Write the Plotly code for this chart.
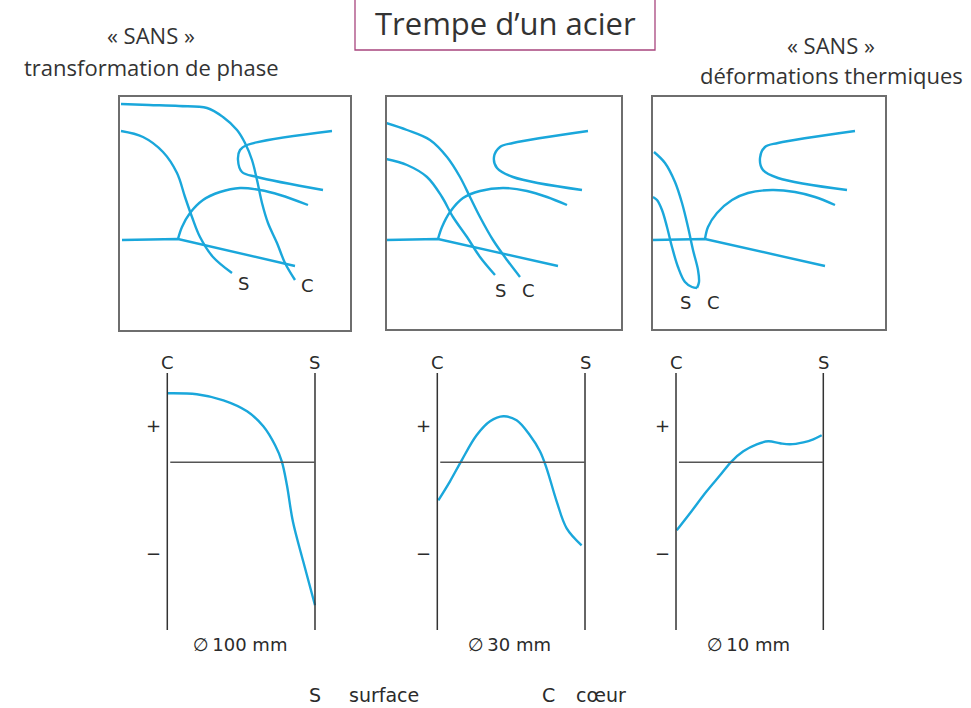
import plotly.graph_objects as go

FIG_W, FIG_H = 971, 708
CURVE = "#1AA7DB"
INK = "#2b2b2b"
LAB_FAMILY = "DejaVu Sans, Liberation Sans, Arial"
HDR_FAMILY = "Open Sans, Lato"

# ---------------- data: TTT diagrams (local diagram units) ----------------
# Panel 1 : Ø100 mm  ("SANS" transformation de phase)
P1_C_u = [2, 30, 60, 88, 104, 118, 126, 133, 138, 143, 149, 158, 166, 176]
P1_C_v = [227, 226, 225, 223, 214, 201, 188, 171, 151, 128, 108, 88, 68, 51]
P1_S_u = [2, 24, 44, 58, 66, 73, 81, 94, 113]
P1_S_v = [200, 194, 179, 158, 134, 114, 94, 74, 58]
P1_M_u = [3, 59, 176]
P1_M_v = [91, 92, 65]
P1_B_u = [59, 63, 71, 84, 101, 121, 141, 161, 189]
P1_B_v = [92, 104, 118, 131, 139, 143, 141, 136, 126]
P1_P_u = [213, 128, 121, 119, 123, 138, 204]
P1_P_v = [200, 186, 181, 171, 159, 154, 141]

# Panel 2 : Ø30 mm
P2_C_u = [0, 21, 44, 61, 74, 84, 94, 107, 121, 134]
P2_C_v = [207, 200, 190, 173, 153, 133, 113, 90, 70, 53]
P2_S_u = [0, 21, 41, 56, 67, 81, 94, 109]
P2_S_v = [171, 165, 153, 133, 113, 93, 73, 55]
P2_M_u = [0, 52, 172]
P2_M_v = [90, 91, 64]
P2_B_u = [52, 56, 64, 77, 94, 117, 141, 161, 181]
P2_B_v = [91, 103, 118, 132, 139, 142, 139, 133, 125]
P2_P_u = [202, 127, 114, 108, 111, 127, 196]
P2_P_v = [199, 187, 183, 173, 162, 153, 140]

# Panel 3 : Ø10 mm ("SANS" déformations thermiques)
P3_C_u = [2, 13, 23, 30, 36, 41, 46, 47, 45]
P3_C_v = [178, 167, 148, 127, 103, 80, 60, 48, 42]
P3_S_u = [1, 5, 10, 15, 20, 26, 33, 40, 45]
P3_S_v = [133, 130, 120, 103, 83, 63, 48, 43, 42]
P3_M_u = [0, 53, 173]
P3_M_v = [90, 91, 64]
P3_B_u = [53, 56, 65, 80, 96, 120, 143, 163, 183]
P3_B_v = [91, 103, 117, 130, 137, 140, 138, 133, 125]
P3_P_u = [203, 126, 113, 108, 111, 126, 195]
P3_P_v = [199, 187, 183, 172, 160, 152, 140]

TOP_LABEL_POS = [((124, 48), (188, 46)), ((114, 40), (142, 40)), ((33, 28), (61, 28))]

# ---------------- data: residual stress profiles (C = 0 -> S = 1) ----------------
B1_x = [0, 0.20, 0.38, 0.54, 0.65, 0.73, 0.775, 0.81, 0.85, 0.92, 1.0]
B1_y = [0.69, 0.68, 0.62, 0.51, 0.36, 0.17, 0.01, -0.23, -0.59, -0.99, -1.43]
B2_x = [0.007, 0.086, 0.165, 0.266, 0.357, 0.447, 0.537, 0.627, 0.695, 0.74, 0.808, 0.876, 0.977]
B2_y = [-0.38, -0.19, 0.02, 0.27, 0.41, 0.46, 0.42, 0.27, 0.11, -0.06, -0.39, -0.66, -0.83]
B3_x = [0.005, 0.095, 0.208, 0.299, 0.378, 0.457, 0.548, 0.627, 0.706, 0.774, 0.865, 0.932, 0.989]
B3_y = [-0.68, -0.51, -0.29, -0.13, 0.01, 0.11, 0.18, 0.21, 0.19, 0.18, 0.20, 0.23, 0.27]
DIAM_LABELS = ["\u2205\u2009100 mm", "\u2205\u200930 mm", "\u2205\u200910 mm"]

# ---------------- layout helpers (pixel boxes) ----------------
TOP_BOXES = [(119, 351, 96, 331), (386, 622, 96, 330), (652, 886, 96, 330)]
BOT_LINES = [(167.3, 315.0), (437.3, 585.0), (676.0, 823.3)]
ZERO_PX = 462.3
UNIT_PX = 100.0
Y_TOP, Y_BOT = 0.893, -1.677
BX_RANGE = [-0.15, 1.15]
BY_RANGE = [-1.9, 1.1]


def dom_x(a, b):
    return [a / FIG_W, b / FIG_W]


def dom_y(top, bottom):
    return [1 - bottom / FIG_H, 1 - top / FIG_H]


def ax_names(n):
    if n == 1:
        return "x", "y", "xaxis", "yaxis"
    return f"x{n}", f"y{n}", f"xaxis{n}", f"yaxis{n}"


fig = go.Figure()
layout_axes = {}
shapes = []
annotations = []

top_sets = [
    [(P1_C_u, P1_C_v), (P1_S_u, P1_S_v), (P1_B_u, P1_B_v), (P1_P_u, P1_P_v)],
    [(P2_C_u, P2_C_v), (P2_S_u, P2_S_v), (P2_B_u, P2_B_v), (P2_P_u, P2_P_v)],
    [(P3_C_u, P3_C_v), (P3_S_u, P3_S_v), (P3_B_u, P3_B_v), (P3_P_u, P3_P_v)],
]
top_ms = [(P1_M_u, P1_M_v), (P2_M_u, P2_M_v), (P3_M_u, P3_M_v)]

lab_font = dict(family=LAB_FAMILY, size=18, color=INK)

for i, (l, r, t, b) in enumerate(TOP_BOXES):
    xa, ya, xk, yk = ax_names(i + 1)
    layout_axes[xk] = dict(domain=dom_x(l, r), range=[0, r - l], visible=False,
                           anchor=ya, fixedrange=True)
    layout_axes[yk] = dict(domain=dom_y(t, b), range=[0, b - t], visible=False,
                           anchor=xa, fixedrange=True)
    for (u, v) in top_sets[i]:
        fig.add_trace(go.Scatter(x=u, y=v, mode="lines", xaxis=xa, yaxis=ya,
                                 line=dict(color=CURVE, width=2.4, shape="spline", smoothing=1.0),
                                 hoverinfo="skip", showlegend=False))
    mu, mv = top_ms[i]
    fig.add_trace(go.Scatter(x=mu, y=mv, mode="lines", xaxis=xa, yaxis=ya,
                             line=dict(color=CURVE, width=2.4),
                             hoverinfo="skip", showlegend=False))
    shapes.append(dict(type="rect", xref=f"{xa} domain", yref=f"{ya} domain",
                       x0=0, x1=1, y0=0, y1=1, line=dict(color="#6e6e6e", width=2)))
    (sx, sy), (cx, cy) = TOP_LABEL_POS[i]
    for txt, ux, vy in (("S", sx, sy), ("C", cx, cy)):
        annotations.append(dict(x=ux, y=vy, xref=xa, yref=ya, text=txt, showarrow=False,
                                font=lab_font))

bot_sets = [(B1_x, B1_y), (B2_x, B2_y), (B3_x, B3_y)]
for i, (cpx, spx) in enumerate(BOT_LINES):
    xa, ya, xk, yk = ax_names(i + 4)
    w = spx - cpx
    left = cpx + BX_RANGE[0] * w
    right = cpx + BX_RANGE[1] * w
    top = ZERO_PX - BY_RANGE[1] * UNIT_PX
    bottom = ZERO_PX - BY_RANGE[0] * UNIT_PX
    layout_axes[xk] = dict(domain=dom_x(left, right), range=BX_RANGE, visible=False,
                           anchor=ya, fixedrange=True)
    layout_axes[yk] = dict(domain=dom_y(top, bottom), range=BY_RANGE, visible=False,
                           anchor=xa, fixedrange=True)
    bx, by = bot_sets[i]
    for xv in (0, 1):
        shapes.append(dict(type="line", xref=xa, yref=ya, x0=xv, x1=xv, y0=Y_BOT, y1=Y_TOP,
                           line=dict(color="#333333", width=1.5)))
    shapes.append(dict(type="line", xref=xa, yref=ya, x0=0.02, x1=1, y0=0, y1=0,
                       line=dict(color="#555555", width=1.6)))
    fig.add_trace(go.Scatter(x=bx, y=by, mode="lines", xaxis=xa, yaxis=ya,
                             line=dict(color=CURVE, width=2.4, shape="spline", smoothing=1.0),
                             hoverinfo="skip", showlegend=False))
    annotations += [
        dict(x=0, y=1.0, xref=xa, yref=ya, text="C", showarrow=False, font=lab_font),
        dict(x=1, y=1.0, xref=xa, yref=ya, text="S", showarrow=False, font=lab_font),
        dict(x=-0.095, y=0.37, xref=xa, yref=ya, text="+", showarrow=False, font=lab_font),
        dict(x=-0.095, y=-0.91, xref=xa, yref=ya, text="\u2212", showarrow=False, font=lab_font),
        dict(x=0.49, y=-1.82, xref=xa, yref=ya, text=DIAM_LABELS[i], showarrow=False,
             font=dict(family=LAB_FAMILY, size=18, color=INK)),
    ]

# ---------------- header texts ----------------
def P(px, py):
    return px / FIG_W, 1 - py / FIG_H

shapes.append(dict(type="rect", xref="paper", yref="paper",
                   x0=P(355, 0)[0], x1=P(655, 0)[0], y0=P(0, 50)[1], y1=P(0, -5)[1],
                   line=dict(color="#a8467e", width=1.3)))

for txt, px, py, sz in [("Trempe d\u2019un acier", 505, 23, 31),
                        ("\u00ab SANS \u00bb", 151, 35, 22),
                        ("transformation de phase", 151, 67, 22),
                        ("\u00ab SANS \u00bb", 831, 45, 22),
                        ("d\u00e9formations thermiques", 831, 75, 22)]:
    x, y = P(px, py)
    annotations.append(dict(x=x, y=y, xref="paper", yref="paper", text=txt, showarrow=False,
                            xanchor="center", yanchor="middle",
                            font=dict(family=HDR_FAMILY, size=sz, color="#333333")))

leg_font = dict(family=LAB_FAMILY, size=19, color=INK)
for txt, px in [("S", 315), ("surface", 384), ("C", 548), ("c\u0153ur", 601)]:
    x, y = P(px, 695)
    annotations.append(dict(x=x, y=y, xref="paper", yref="paper", text=txt, showarrow=False,
                            xanchor="center", yanchor="middle", font=leg_font))

fig.update_layout(width=FIG_W, height=FIG_H, margin=dict(l=0, r=0, t=0, b=0),
                  paper_bgcolor="white", plot_bgcolor="white",
                  shapes=shapes, annotations=annotations, **layout_axes)

fig.write_html("out.html")
